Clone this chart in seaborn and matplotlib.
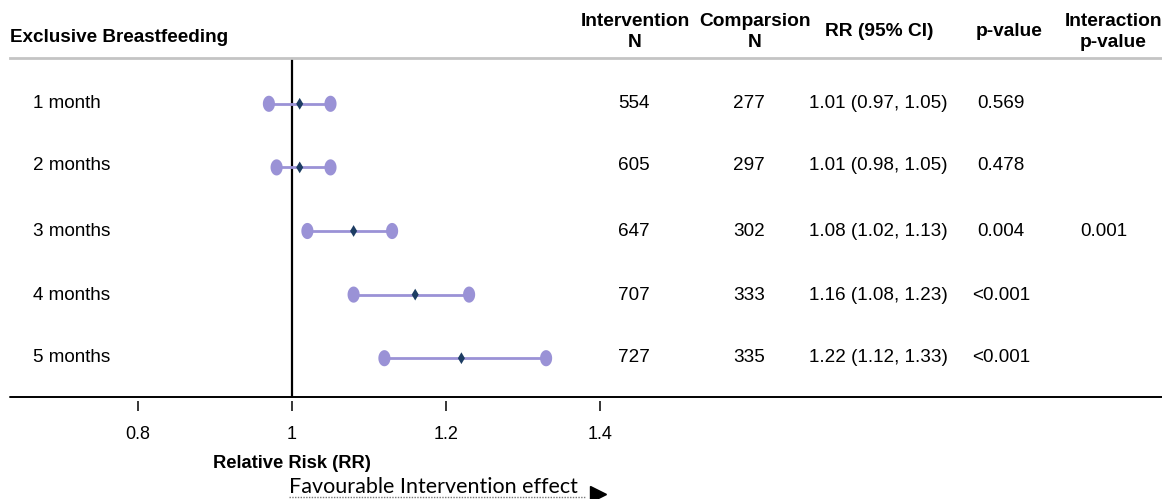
import numpy as np
import pandas as pd
import matplotlib
matplotlib.use("Agg")
import matplotlib.pyplot as plt
from matplotlib.path import Path
import seaborn as sns

labels = ["1 month", "2 months", "3 months", "4 months", "5 months"]
rr = [1.01, 1.01, 1.08, 1.16, 1.22]
lo = [0.97, 0.98, 1.02, 1.08, 1.12]
hi = [1.05, 1.05, 1.13, 1.23, 1.33]
n_int = ["554", "605", "647", "707", "727"]
n_comp = ["277", "297", "302", "333", "335"]
rr_txt = ["1.01 (0.97, 1.05)", "1.01 (0.98, 1.05)", "1.08 (1.02, 1.13)",
          "1.16 (1.08, 1.23)", "1.22 (1.12, 1.33)"]
pvals = ["0.569", "0.478", "0.004", "<0.001", "<0.001"]
inter_p = ["", "", "0.001", "", ""]
xticks = [0.8, 1.0, 1.2, 1.4]
xticklabels = ["0.8", "1", "1.2", "1.4"]

sns.set_theme(style="white")
plt.rcParams["font.family"] = ["Liberation Sans", "DejaVu Sans"]
plt.rcParams["text.color"] = "black"
plt.rcParams["xtick.color"] = "black"
plt.rcParams["xtick.labelcolor"] = "black"

W, H = 1162, 499
fig = plt.figure(figsize=(W / 100, H / 100), dpi=100)

def fx(x):
    return x / W

def fy(y):
    return 1 - y / H

ax = fig.add_axes([fx(10), fy(397), 1 - fx(10), (397 - 58) / H])
df = pd.DataFrame({"y": np.arange(len(labels)), "rr": rr, "lo": lo, "hi": hi})

purple = "#9a92d6"
navy = "#1d3d63"

ax.hlines(df["y"], df["lo"], df["hi"], color=purple, lw=2, zorder=2)
t = np.linspace(0, 2 * np.pi, 60)
ell = Path(np.column_stack([np.cos(t) * 0.75, np.sin(t)]))
ends = pd.concat([df[["y"]].assign(x=df["lo"]), df[["y"]].assign(x=df["hi"])])
sns.scatterplot(data=ends, x="x", y="y", marker=ell, s=135, color=purple,
                edgecolor="none", ax=ax, zorder=3, legend=False)
sns.scatterplot(data=df, x="rr", y="y", marker="d", s=36, color=navy,
                edgecolor="none", ax=ax, zorder=4, legend=False)

x0 = 0.8 - 128 / 770
ax.set_xlim(x0, x0 + 1152 / 770)
ax.set_ylim(4.61, -0.72)
ax.axvline(1.0, color="black", lw=1.6, zorder=1)

ax.set_xticks(xticks)
ax.set_xticklabels(xticklabels)
ax.set_yticks([])
ax.set_xlabel("")
ax.set_ylabel("")
for s in ["left", "right"]:
    ax.spines[s].set_visible(False)
ax.spines["top"].set_color("#c4c4c4")
ax.spines["top"].set_linewidth(2)
ax.spines["bottom"].set_position(("outward", 3))
ax.spines["bottom"].set_visible(False)
ax.axhline(4.61, color="black", lw=1.4, clip_on=False)
ax.tick_params(axis="x", direction="out", length=7, width=1.1, color="black",
               pad=11, bottom=True, labelsize=13, labelcolor="black")

# header
fig.text(fx(10), fy(37), "Exclusive Breastfeeding", fontsize=13.6,
         fontweight="bold", va="center", ha="left")
hdr = [(635, "Intervention\nN"), (755, "Comparsion\nN"), (879, "RR (95% CI)"),
       (1009, "p-value"), (1113, "Interaction\np-value")]
for x, s in hdr:
    fig.text(fx(x), fy(32), s, fontsize=13.8, fontweight="bold",
             ha="center", va="center", linespacing=1.3)

rows_y = [104, 166, 231, 296, 358]
for i, yy in enumerate(rows_y):
    fig.text(fx(33), fy(yy), labels[i], fontsize=13.6, ha="left", va="center")
    fig.text(fx(634), fy(yy), n_int[i], fontsize=13.6, ha="center", va="center")
    fig.text(fx(749), fy(yy), n_comp[i], fontsize=13.6, ha="center", va="center")
    fig.text(fx(878), fy(yy), rr_txt[i], fontsize=13.6, ha="center", va="center")
    fig.text(fx(1001), fy(yy), pvals[i], fontsize=13.6, ha="center", va="center")
    if inter_p[i]:
        fig.text(fx(1104), fy(yy), inter_p[i], fontsize=13.6, ha="center", va="center")

fig.text(fx(292), fy(463), "Relative Risk (RR)", fontsize=13.2,
         fontweight="bold", ha="center", va="center")
fig.text(fx(289), fy(487), "Favourable Intervention effect", fontsize=15.5,
         family=["Lato", "DejaVu Sans"], ha="left", va="center")
fig.add_artist(plt.Line2D([fx(289), fx(585)], [fy(497), fy(497)],
                          color="#777777", lw=1, ls=(0, (1, 1))))
fig.add_artist(plt.Line2D([fx(598)], [fy(494)], marker=">", color="black",
                          markersize=11, lw=0))

fig.savefig("out.png", dpi=100)
